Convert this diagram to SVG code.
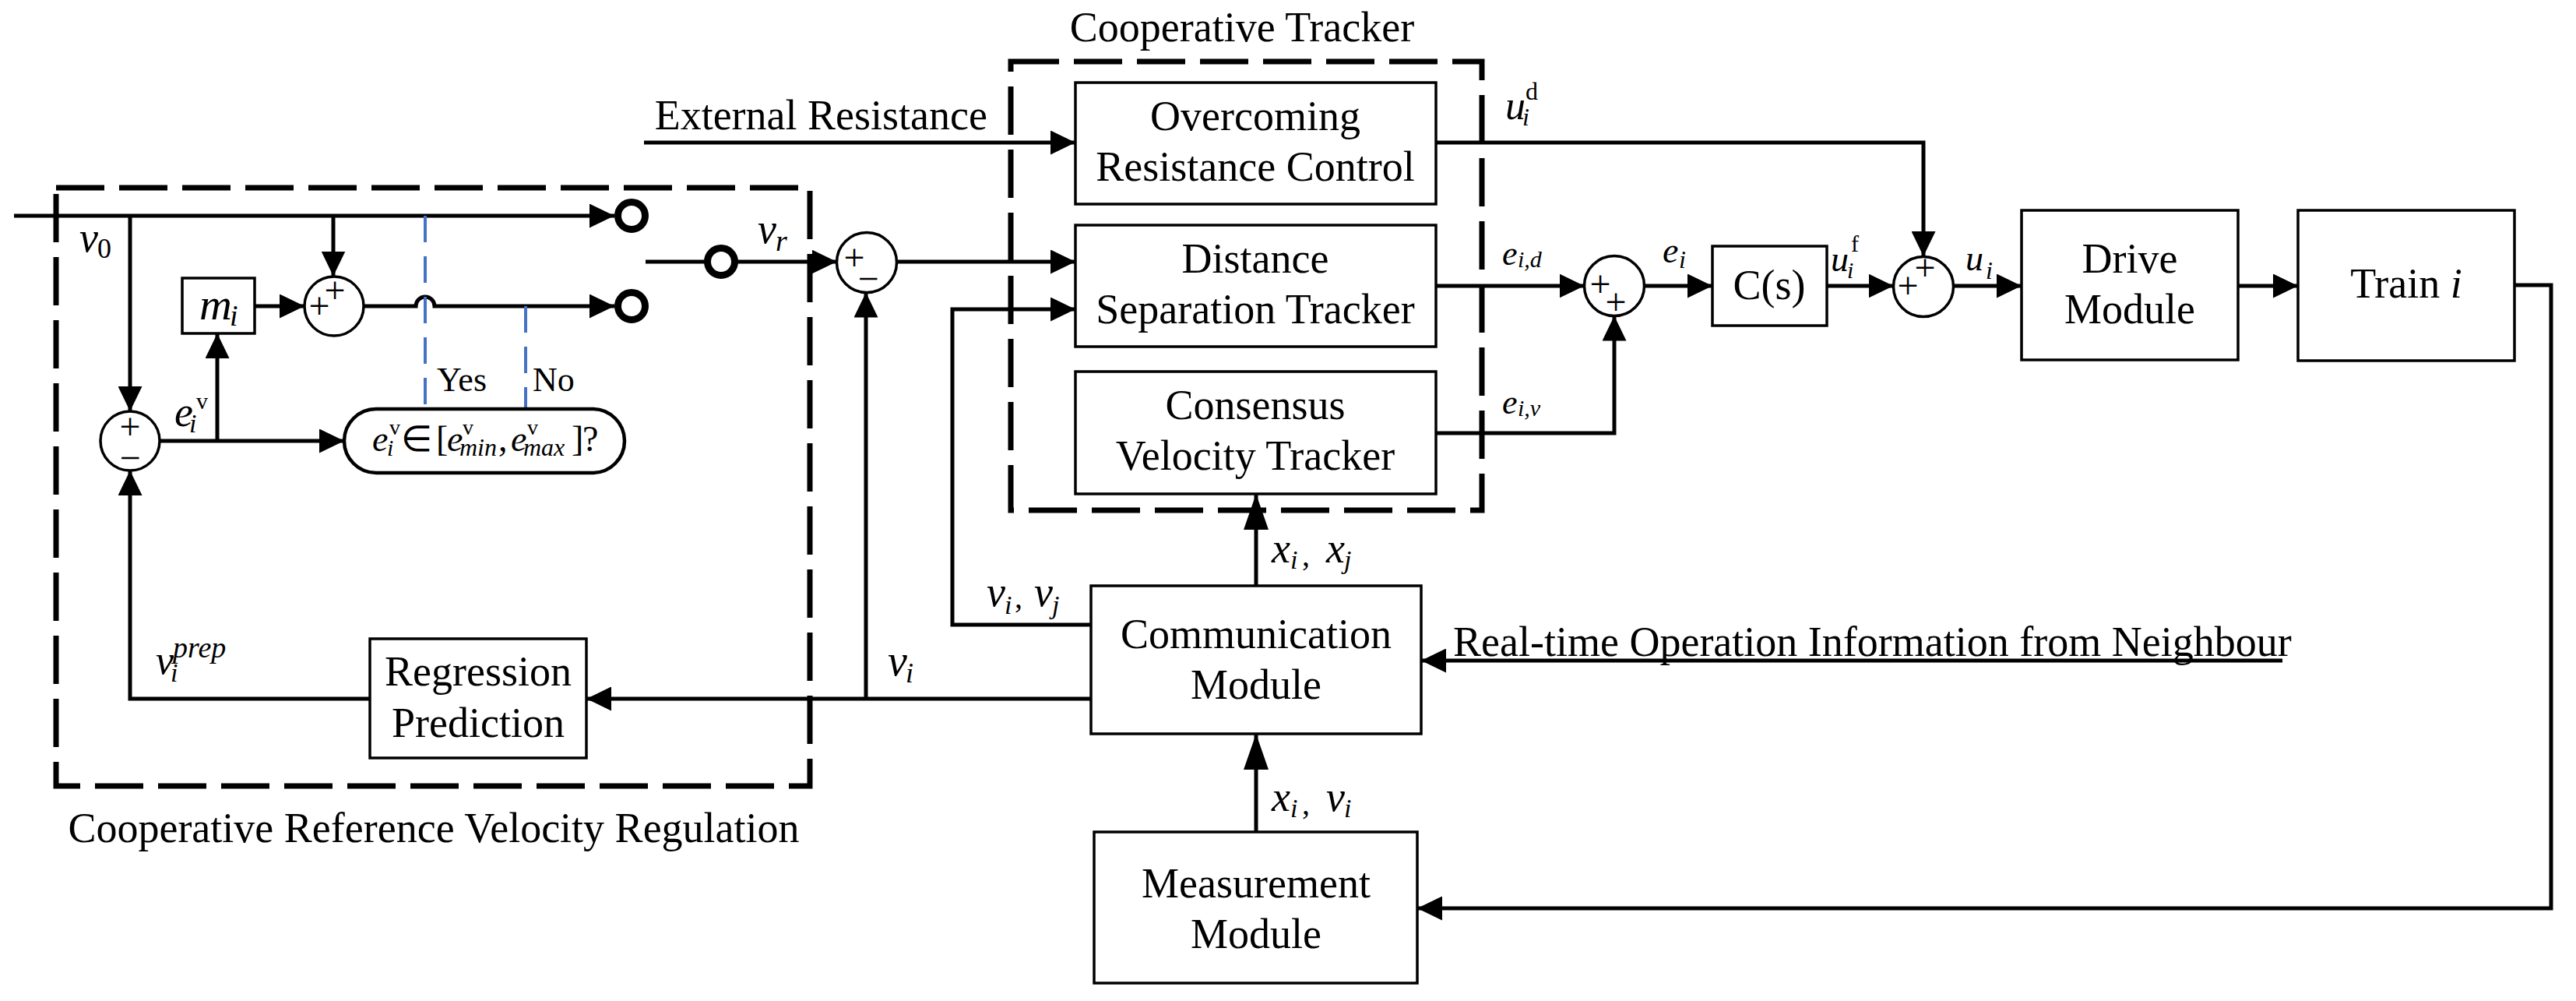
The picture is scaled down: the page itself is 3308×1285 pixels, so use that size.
<svg xmlns="http://www.w3.org/2000/svg" width="3308" height="1285" viewBox="0 0 3308 1285">
<style>
text{font-family:"Liberation Serif","Times New Roman",serif;fill:#000}
.t{font-size:54px;text-anchor:middle}
.m{font-style:italic}
.u{font-style:normal}
.box{fill:#fff;stroke:#000;stroke-width:3.5}
.sum{fill:#fff;stroke:#000;stroke-width:3.5}
.dash{fill:none;stroke:#000;stroke-width:7;stroke-dasharray:62 19}
.c{fill:none;stroke:#000;stroke-width:5}
.blue{fill:none;stroke:#4472C4;stroke-width:4;stroke-dasharray:34 18}
.term{fill:#fff;stroke:#000;stroke-width:9}
.pm{font-size:48px;text-anchor:middle}
</style>
<defs>
<marker id="a" markerUnits="userSpaceOnUse" markerWidth="32" markerHeight="31" viewBox="0 0 32 31" refX="32" refY="15.5" orient="auto"><path d="M0,0 L32,15.5 L0,31 z" fill="#000"/></marker>
<marker id="al" markerUnits="userSpaceOnUse" markerWidth="46" markerHeight="32" viewBox="0 0 46 32" refX="46" refY="16" orient="auto"><path d="M0,0 L46,16 L0,32 z" fill="#000"/></marker>
</defs>
<rect width="3308" height="1285" fill="#fff"/>

<g id="groups">
<rect class="dash" x="72" y="241" width="968" height="768"/>
<text class="t" x="557" y="1081">Cooperative Reference Velocity Regulation</text>
<rect class="dash" x="1298" y="79" width="605" height="576"/>
<text class="t" x="1595" y="53">Cooperative Tracker</text>
</g>

<g id="connectors">
<path class="c" d="M18,277 H789" marker-end="url(#a)"/>
<path class="c" d="M167,277 V528" marker-end="url(#a)"/>
<path class="c" d="M428,277 V354.5" marker-end="url(#a)"/>
<path class="c" d="M205,566 H442" marker-end="url(#a)"/>
<path class="c" d="M279,566 V428" marker-end="url(#a)"/>
<path class="c" d="M327,393 H391" marker-end="url(#a)"/>
<path class="c" d="M467,393 H534 A12,12 0 0 1 558,393 H789" marker-end="url(#a)"/>
<path class="c" d="M829,336 H908"/>
<path class="c" d="M944,336 H1074.5" marker-end="url(#a)"/>
<path class="c" d="M1151.5,336 H1381" marker-end="url(#a)"/>
<path class="c" d="M827,183 H1381" marker-end="url(#a)"/>
<path class="c" d="M1401,802 H1223 V397 H1381" marker-end="url(#a)"/>
<path class="c" d="M1401,897 H753" marker-end="url(#a)"/>
<path class="c" d="M1112,897 V375.5" marker-end="url(#a)"/>
<path class="c" d="M475,897 H167 V604" marker-end="url(#a)"/>
<path class="c" d="M1613,752 V634" marker-end="url(#al)"/>
<path class="c" d="M1613,1068 V942" marker-end="url(#al)"/>
<path class="c" d="M2931,848 H1825" marker-end="url(#a)"/>
<path class="c" d="M3229,366 H3276 V1166 H1820" marker-end="url(#a)"/>
<path class="c" d="M1844,183 H2470 V329" marker-end="url(#a)"/>
<path class="c" d="M1844,367 H2034.5" marker-end="url(#a)"/>
<path class="c" d="M1844,556 H2073 V405.5" marker-end="url(#a)"/>
<path class="c" d="M2111.5,367 H2199" marker-end="url(#a)"/>
<path class="c" d="M2346,367 H2431.5" marker-end="url(#a)"/>
<path class="c" d="M2508.5,367 H2596" marker-end="url(#a)"/>
<path class="c" d="M2874,367 H2951" marker-end="url(#a)"/>
<path class="blue" d="M546,277 V525"/>
<path class="blue" d="M675,393 V525"/>
</g>

<g id="switch">
<circle class="term" cx="811" cy="277" r="17.5"/>
<circle class="term" cx="811" cy="393" r="17.5"/>
<circle class="term" cx="926" cy="336" r="17.5"/>
</g>

<g id="sum-error">
<circle class="sum" cx="167" cy="566" r="38"/>
<text class="pm" x="167" y="564">+</text>
<text class="pm" x="167" y="604">−</text>
</g>

<g id="sum-mi">
<circle class="sum" cx="429" cy="393" r="38"/>
<text class="pm" x="430" y="389">+</text>
<text class="pm" x="410" y="409">+</text>
</g>

<g id="mi">
<rect class="box" x="234" y="357" width="93" height="71"/>
<text class="m" font-size="58"><tspan x="256" y="410">m</tspan><tspan x="295" y="418" font-size="38">i</tspan></text>
</g>

<g id="decision">
<rect class="box" x="442" y="525" width="360" height="82" rx="41" ry="41" style="stroke-width:4.5"/>
<text class="m" font-size="46">
<tspan x="478" y="579">e</tspan><tspan x="497" y="585" font-size="30">i</tspan><tspan x="500" y="558" font-size="28" class="u">v</tspan><tspan x="515" y="579" class="u">∈</tspan><tspan x="560" y="579" class="u">[</tspan><tspan x="574" y="579">e</tspan><tspan x="590" y="585" font-size="32">min</tspan><tspan x="594" y="558" font-size="28" class="u">v</tspan><tspan x="640" y="579" class="u">,</tspan><tspan x="656" y="579">e</tspan><tspan x="672" y="585" font-size="32">max</tspan><tspan x="677" y="558" font-size="28" class="u">v</tspan><tspan x="734" y="579" class="u">]</tspan><tspan x="748" y="579" class="u">?</tspan>
</text>
<text font-size="44" x="561" y="502">Yes</text>
<text font-size="44" x="684" y="502">No</text>
</g>

<g id="regression">
<rect class="box" x="475" y="820" width="278" height="153"/>
<text class="t" x="614" y="880">Regression</text>
<text class="t" x="614" y="946">Prediction</text>
</g>

<g id="sum-main">
<circle class="sum" cx="1113" cy="337" r="38.5"/>
<text class="pm" x="1097" y="347">+</text>
<text class="pm" x="1115" y="374">−</text>
</g>

<g id="overcoming">
<rect class="box" x="1381" y="106" width="463" height="156"/>
<text class="t" x="1612" y="167">Overcoming</text>
<text class="t" x="1612" y="232">Resistance Control</text>
</g>
<text font-size="54" x="1268" y="166" text-anchor="end">External Resistance</text>

<g id="distance">
<rect class="box" x="1381" y="289" width="463" height="156"/>
<text class="t" x="1612" y="350">Distance</text>
<text class="t" x="1612" y="415">Separation Tracker</text>
</g>

<g id="consensus">
<rect class="box" x="1381" y="477" width="463" height="157"/>
<text class="t" x="1612" y="538">Consensus</text>
<text class="t" x="1612" y="603">Velocity Tracker</text>
</g>

<g id="communication">
<rect class="box" x="1401" y="752" width="424" height="190"/>
<text class="t" x="1613" y="832">Communication</text>
<text class="t" x="1613" y="897">Module</text>
</g>
<text font-size="54" x="1866" y="842">Real-time Operation Information from Neighbour</text>

<g id="measurement">
<rect class="box" x="1405" y="1068" width="415" height="194"/>
<text class="t" x="1613" y="1152">Measurement</text>
<text class="t" x="1613" y="1217">Module</text>
</g>

<g id="sum-e">
<circle class="sum" cx="2073" cy="367" r="38.5"/>
<text class="pm" x="2055" y="381">+</text>
<text class="pm" x="2075" y="404">+</text>
</g>

<g id="cs">
<rect class="box" x="2199" y="316" width="147" height="102"/>
<text class="t" x="2272" y="384" font-size="52">C(s)</text>
</g>

<g id="sum-u">
<circle class="sum" cx="2470" cy="368" r="38.5"/>
<text class="pm" x="2472" y="360">+</text>
<text class="pm" x="2450" y="383">+</text>
</g>

<g id="drive">
<rect class="box" x="2596" y="270" width="278" height="192"/>
<text class="t" x="2735" y="350">Drive</text>
<text class="t" x="2735" y="415">Module</text>
</g>

<g id="train">
<rect class="box" x="2951" y="270" width="278" height="193"/>
<text class="t" x="3090" y="382">Train <tspan class="m">i</tspan></text>
</g>

<g id="labels" class="m">
<text font-size="54"><tspan x="102" y="323">v</tspan><tspan x="125" y="331" font-size="36" class="u">0</tspan></text>
<text font-size="54"><tspan x="973" y="312">v</tspan><tspan x="996" y="322" font-size="38">r</tspan></text>
<text font-size="54"><tspan x="224" y="547">e</tspan><tspan x="243" y="555" font-size="34">i</tspan><tspan x="252" y="525" font-size="30" class="u">v</tspan></text>
<text font-size="52"><tspan x="200" y="865">v</tspan><tspan x="219" y="875" font-size="34">i</tspan><tspan x="222" y="844" font-size="38">prep</tspan></text>
<text font-size="56"><tspan x="1140" y="867">v</tspan><tspan x="1163" y="876" font-size="36">i</tspan></text>
<text font-size="54"><tspan x="1267" y="778">v</tspan><tspan x="1290" y="788" font-size="34">i</tspan><tspan x="1303" y="780" font-size="40" class="u">,</tspan><tspan x="1328" y="778">v</tspan><tspan x="1351" y="788" font-size="34">j</tspan></text>
<text font-size="54"><tspan x="1633" y="722">x</tspan><tspan x="1657" y="730" font-size="34">i</tspan><tspan x="1672" y="726" font-size="40" class="u">,</tspan><tspan x="1703" y="722">x</tspan><tspan x="1726" y="730" font-size="34">j</tspan></text>
<text font-size="54"><tspan x="1633" y="1041">x</tspan><tspan x="1657" y="1049" font-size="34">i</tspan><tspan x="1672" y="1045" font-size="40" class="u">,</tspan><tspan x="1703" y="1041">v</tspan><tspan x="1726" y="1049" font-size="34">i</tspan></text>
<text font-size="52"><tspan x="1933" y="153">u</tspan><tspan x="1955" y="161" font-size="32">i</tspan><tspan x="1959" y="128" font-size="32" class="u">d</tspan></text>
<text font-size="44"><tspan x="1929" y="340">e</tspan><tspan x="1949" y="343" font-size="30">i,d</tspan></text>
<text font-size="44"><tspan x="1929" y="531">e</tspan><tspan x="1949" y="534" font-size="30">i,v</tspan></text>
<text font-size="46"><tspan x="2135" y="337">e</tspan><tspan x="2156" y="344" font-size="32">i</tspan></text>
<text font-size="46"><tspan x="2351" y="348">u</tspan><tspan x="2372" y="357" font-size="30">i</tspan><tspan x="2377" y="323" font-size="30" class="u">f</tspan></text>
<text font-size="46"><tspan x="2524" y="347">u</tspan><tspan x="2550" y="358" font-size="32">i</tspan></text>
</g>
</svg>
